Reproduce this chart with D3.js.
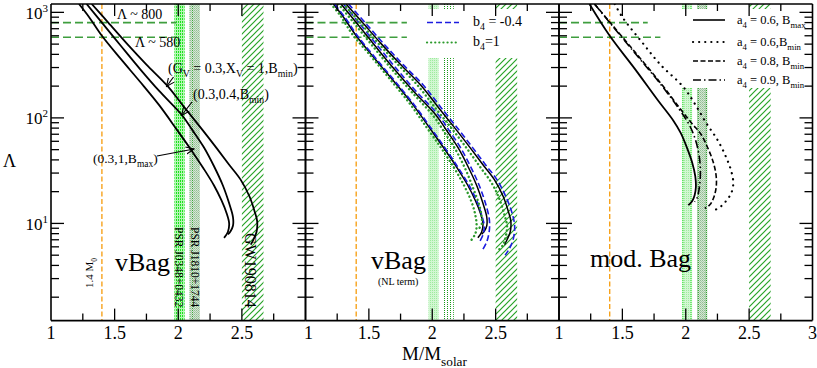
<!DOCTYPE html>
<html>
<head>
<meta charset="utf-8">
<script src="https://cdn.jsdelivr.net/npm/d3@7"></script>
<style>
body{margin:0;background:#fff}
svg text{font-family:'Liberation Serif','Tinos','Times New Roman','DejaVu Serif',serif;fill:#000}
</style>
</head>
<body>
<svg id="chart" width="817" height="368" font-family="Liberation Serif, DejaVu Serif, serif"></svg>
<script>
// axis ticks
var massMajor = [1, 1.5, 2, 2.5];
var massMinor = [1.25, 1.75, 2.25, 2.75];
var lambdaMajor = [10, 100, 1000];
var lambdaExp = ["1", "2", "3"];

// observational constraints
var canonicalMass = 1.4;
var lambdaRefs = [800, 580];
var bandNames = ["PSR J0348+0432", "PSR J1810+1744", "GW190814"];
var bandLo = [1.97, 2.09, 2.50];
var bandHi = [2.05, 2.17, 2.67];

// vBag curves (M, Lambda)
var vbagBmax = [[1.22,1200],[1.30,900],[1.40,600],[1.55,360],[1.70,220],[1.85,132],[1.99,77],[2.10,50],[2.20,33],[2.28,23],[2.34,16.5],[2.38,12.5],[2.40,10],[2.39,8.3],[2.36,7.3]];
var vbagX04 = [[1.28,1200],[1.40,800],[1.55,480],[1.70,290],[1.85,180],[2.03,106],[2.11,77],[2.20,53],[2.28,35],[2.35,23],[2.40,15.5],[2.43,11.5],[2.43,9.5],[2.41,8.4],[2.39,7.9]];
var vbagX1 = [[1.32,1200],[1.45,800],[1.60,500],[1.75,320],[1.91,204],[2.05,125],[2.19,77],[2.30,52],[2.40,36],[2.49,26],[2.56,18],[2.60,13],[2.62,10.5],[2.615,8.3],[2.59,7],[2.57,6.3]];

// vBag with NL term, b4 = -0.4
var nlBlueBmax = [[1.23,1200],[1.31,900],[1.41,600],[1.56,360],[1.71,220],[1.86,132],[2.00,77],[2.11,50],[2.21,33],[2.29,23],[2.35,16.5],[2.39,12],[2.41,9.5],[2.40,7.8],[2.37,6.6]];
var nlBlueX04 = [[1.30,1200],[1.42,800],[1.57,480],[1.72,290],[1.87,180],[2.05,106],[2.13,77],[2.22,53],[2.30,35],[2.37,23],[2.42,15.5],[2.45,11],[2.45,8.5],[2.43,6.7],[2.40,5.7]];
var nlBlueX1 = [[1.34,1200],[1.47,800],[1.62,500],[1.77,320],[1.93,204],[2.07,125],[2.21,77],[2.32,52],[2.42,36],[2.51,26],[2.58,18],[2.63,12.5],[2.65,9.5],[2.64,7.2],[2.61,5.8],[2.575,5.0]];
// b4 = 1
var nlGreenBmax = [[1.20,1200],[1.27,950],[1.37,620],[1.52,380],[1.67,230],[1.82,138],[1.96,80],[2.07,52],[2.17,34],[2.25,23],[2.31,16],[2.34,12],[2.35,9.5],[2.34,8],[2.31,7]];
var nlGreenX04 = [[1.26,1200],[1.38,800],[1.53,480],[1.68,290],[1.83,180],[2.01,104],[2.09,75],[2.18,51],[2.26,33],[2.32,22],[2.37,15],[2.39,11.5],[2.39,9.8],[2.37,9]];
var nlGreenX1 = [[1.30,1200],[1.43,800],[1.58,500],[1.73,320],[1.89,200],[2.03,122],[2.17,75],[2.28,50],[2.38,34],[2.47,24],[2.53,17],[2.57,12],[2.59,9.5],[2.58,7.5],[2.56,6.3],[2.53,5.7]];

// modified Bag
var modA06Bmax = [[1.24,1200],[1.40,600],[1.60,290],[1.78,147],[1.90,95],[1.96,72],[2.01,52],[2.05,38],[2.075,28],[2.08,22],[2.07,18.5],[2.05,16.2],[2.02,14.9]];
var modA06Bmin = [[1.44,1200],[1.50,900],[1.65,530],[1.80,320],[1.98,197],[2.07,137],[2.16,90],[2.25,62],[2.32,42],[2.36,31],[2.375,24],[2.36,19.5],[2.33,17],[2.28,14.6],[2.23,13.4]];
var modA08Bmin = [[1.28,1200],[1.40,810],[1.60,420],[1.80,215],[1.95,125],[2.05,88],[2.12,70],[2.18,50],[2.22,37],[2.24,28],[2.24,22],[2.22,17.5],[2.19,15],[2.15,13.9]];
var modA09Bmin = [[1.28,1200],[1.40,800],[1.60,410],[1.80,210],[1.95,120],[2.03,85],[2.08,60],[2.11,40],[2.115,28],[2.105,21],[2.09,17.5],[2.07,16]];

var svg = d3.select("#chart");
var plotTop = 4, plotBottom = 320.6;
var panelRange = [[51,305.5],[305.5,559],[559,812.5]];
var y = d3.scaleLog().domain([1.2,1200]).range([plotBottom, plotTop]);
var xs = panelRange.map(function(r){ return d3.scaleLinear().domain([1,3]).range(r); });

var defs = svg.append("defs");
// band fills
var p = defs.append("pattern").attr("id","bright").attr("width",2).attr("height",3).attr("patternUnits","userSpaceOnUse");
p.append("rect").attr("width",2).attr("height",3).attr("fill","#b4f7b4");
p.append("rect").attr("width",1).attr("height",2).attr("fill","#1fe01f");
p = defs.append("pattern").attr("id","light").attr("width",2).attr("height",2).attr("patternUnits","userSpaceOnUse");
p.append("rect").attr("width",2).attr("height",2).attr("fill","#d2f7d2");
p.append("rect").attr("width",1).attr("height",1).attr("fill","#9eeb9e");
p = defs.append("pattern").attr("id","grey").attr("width",2).attr("height",2).attr("patternUnits","userSpaceOnUse");
p.append("rect").attr("width",2).attr("height",2).attr("fill","#d3e6d3");
p.append("rect").attr("width",1).attr("height",1).attr("fill","#93bd93");
p.append("rect").attr("x",1).attr("y",1).attr("width",1).attr("height",1).attr("fill","#a9cba9");
p = defs.append("pattern").attr("id","darkdots").attr("width",3).attr("height",2).attr("patternUnits","userSpaceOnUse");
p.append("rect").attr("width",1).attr("height",1).attr("fill","#1a9a1a");
p = defs.append("pattern").attr("id","hatch").attr("width",6).attr("height",6).attr("patternUnits","userSpaceOnUse");
p.append("path").attr("d","M0,6L6,0M-1,1L1,-1M5,7L7,5").attr("stroke","#27a327").attr("stroke-width",1.2);

defs.append("marker").attr("id","arrow").attr("viewBox","0 0 10 10").attr("refX",9).attr("refY",5)
  .attr("markerWidth",9).attr("markerHeight",9).attr("markerUnits","userSpaceOnUse").attr("orient","auto")
  .append("path").attr("d","M0,1L9,5L0,9").attr("fill","none").attr("stroke","#000").attr("stroke-width",1.2);

panelRange.forEach(function(r,i){
  defs.append("clipPath").attr("id","clip"+i).append("rect")
    .attr("x",r[0]).attr("y",plotTop).attr("width",r[1]-r[0]).attr("height",plotBottom-plotTop);
});

// rich text: parts alternate normal / subscript
function rich(g, x, yy, parts, size){
  var t = g.append("text").attr("x",x).attr("y",yy).attr("font-size",size);
  var shift = 0;
  parts.forEach(function(s,k){
    var sub = k % 2 === 1;
    var want = sub ? size*0.32 : 0;
    t.append("tspan").text(s).attr("font-size", sub ? size*0.7 : size).attr("dy", want - shift);
    shift = want;
  });
  return t;
}

var bandStyles = [
  ["url(#bright)","url(#grey)","url(#hatch)"],
  ["url(#light)","url(#darkdots)","url(#hatch)"],
  ["url(#light)","url(#grey)","url(#hatch)"]
];
var refEnds = [[1.985,1.985],[1.80,1.80],[1.70,1.80]];

var panels = panelRange.map(function(r,i){
  var g = svg.append("g");
  var x = xs[i];
  var pg = g.append("g").attr("clip-path","url(#clip"+i+")");
  bandLo.forEach(function(lo,k){
    pg.append("rect").attr("x",x(lo)).attr("y",plotTop).attr("width",x(bandHi[k])-x(lo))
      .attr("height",plotBottom-plotTop).attr("fill",bandStyles[i][k]);
  });
  // dotted band edges
  if(i===0){
    pg.append("rect").attr("x",x(bandLo[1])).attr("y",plotTop).attr("width",3).attr("height",plotBottom-plotTop).attr("fill","url(#darkdots)");
  }
  if(i===2){
    [bandLo[0],bandHi[0],bandLo[1],bandHi[1]].forEach(function(v,k){
      pg.append("line").attr("x1",x(v)+(k%2?-1:1)).attr("x2",x(v)+(k%2?-1:1)).attr("y1",plotTop).attr("y2",plotBottom)
        .attr("stroke",k<2?"#33e033":"#1a9a1a").attr("stroke-width",1).attr("stroke-dasharray","1,1");
    });
  }
  pg.append("line").attr("x1",x(canonicalMass)).attr("x2",x(canonicalMass)).attr("y1",plotTop).attr("y2",plotBottom)
    .attr("stroke","#f7a21b").attr("stroke-width",1.4).attr("stroke-dasharray","5,2.5");
  lambdaRefs.forEach(function(L,k){
    pg.append("line").attr("x1",r[0]).attr("x2",x(refEnds[i][k])).attr("y1",y(L)).attr("y2",y(L))
      .attr("stroke","#3e9e3e").attr("stroke-width",1.6).attr("stroke-dasharray","8,4");
  });
  return {g:g, pg:pg, x:x, r:r};
});

// legend backgrounds
panels[1].pg.append("rect").attr("x",420).attr("y",9).attr("width",108).attr("height",49).attr("fill","#fff");
panels[2].pg.append("rect").attr("x",680).attr("y",9).attr("width",134).attr("height",79).attr("fill","#fff");

function curve(panel, data, color, width, dash){
  var line = d3.line().x(function(d){return panel.x(d[0]);}).y(function(d){return y(d[1]);})
    .curve(d3.curveCatmullRom.alpha(0.5));
  var path = panel.pg.append("path").datum(data).attr("d",line).attr("fill","none")
    .attr("stroke",color).attr("stroke-width",width).attr("stroke-linecap", dash==="dot" ? "round" : "butt");
  if(dash==="dot") path.attr("stroke-dasharray","0.1,4");
  else if(dash) path.attr("stroke-dasharray",dash);
  return path;
}

// panel 1
[vbagBmax, vbagX04, vbagX1].forEach(function(d){ curve(panels[0], d, "#000", 1.8); });
// panel 2
[vbagBmax, vbagX04, vbagX1].forEach(function(d){ curve(panels[1], d, "#000", 1.5); });
[nlBlueBmax, nlBlueX04, nlBlueX1].forEach(function(d){ curve(panels[1], d, "#1c1ce0", 1.6, "6,3"); });
[nlGreenBmax, nlGreenX04, nlGreenX1].forEach(function(d){ curve(panels[1], d, "#2c9a2c", 2.4, "dot"); });
// panel 3
curve(panels[2], modA06Bmax, "#000", 1.8);
curve(panels[2], modA06Bmin, "#000", 2.2, "0.1,6").attr("stroke-linecap","round");
curve(panels[2], modA08Bmin, "#000", 1.6, "5,2.5");
curve(panels[2], modA09Bmin, "#000", 1.6, "8,3,1.5,3");

// frames and ticks
var yMinor = [];
[1,10,100].forEach(function(dec){ for(var m=2;m<=9;m++){ var v=m*dec; if(v>=1.2 && v<=1200) yMinor.push(v);} });
panels.forEach(function(P,i){
  var g = P.g, x = P.x, r = P.r;
  function seg(x1,y1,x2,y2,w){ g.append("line").attr("x1",x1).attr("y1",y1).attr("x2",x2).attr("y2",y2).attr("stroke","#000").attr("stroke-width",w||1.3); }
  seg(r[0],plotTop,r[1],plotTop,1.6); seg(r[0],plotBottom,r[1],plotBottom,1.6);
  seg(r[0],plotTop,r[0],plotBottom,1.6); seg(r[1],plotTop,r[1],plotBottom,1.6);
  massMajor.slice(1).forEach(function(v){ seg(x(v),plotBottom,x(v),plotBottom-12); seg(x(v),plotTop,x(v),plotTop+12); });
  massMinor.forEach(function(v){ seg(x(v),plotBottom,x(v),plotBottom-7); seg(x(v),plotTop,x(v),plotTop+7); });
  lambdaMajor.forEach(function(v){ seg(r[0],y(v),r[0]+13,y(v)); seg(r[1],y(v),r[1]-13,y(v)); });
  yMinor.forEach(function(v){ seg(r[0],y(v),r[0]+8,y(v)); seg(r[1],y(v),r[1]-8,y(v)); });
  var labels = i===2 ? massMajor.concat([3]) : massMajor;
  labels.forEach(function(v){
    svg.append("text").attr("x",x(v)+(i===1&&v===1?3:0)).attr("y",339).attr("text-anchor","middle").attr("font-size",18).text(v);
  });
});

// y axis labels
lambdaMajor.forEach(function(v,k){
  var t = svg.append("text").attr("x",48).attr("y",y(v)+6.5).attr("text-anchor","end").attr("font-size",17);
  t.append("tspan").text("10");
  t.append("tspan").text(lambdaExp[k]).attr("font-size",11).attr("dy",-7);
});
svg.append("text").attr("x",3).attr("y",167).attr("font-size",18).text("\u039b");
rich(svg, 402, 360, ["M/M","solar"], 19);

// panel 1 annotations
var g0 = panels[0].g;
g0.append("text").attr("x",117).attr("y",19).attr("font-size",14).text("\u039b ~ 800");
g0.append("text").attr("x",135).attr("y",47).attr("font-size",14).text("\u039b ~ 580");
rich(g0, 168, 73, ["(G","V"," = 0.3,X","V"," = 1,B","min",")"], 14);
rich(g0, 193, 99, ["(0.3,0.4,B","min",")"], 14);
rich(g0, 93, 163, ["(0.3,1,B","max",")"], 13.5);
[[173.5,77,166.5,86.5],[192,102,181.5,115.5],[157,156,194,149]].forEach(function(a){
  g0.append("line").attr("x1",a[0]).attr("y1",a[1]).attr("x2",a[2]).attr("y2",a[3])
    .attr("stroke","#000").attr("stroke-width",1.2).attr("marker-end","url(#arrow)");
});
g0.append("text").attr("x",115).attr("y",271).attr("font-size",26).text("vBag");
rich(g0.append("g").attr("transform","translate(93,288) rotate(-90)"), 0, 0, ["1.4 M","0"], 11);
g0.append("g").attr("transform","translate(174.5,227) rotate(90)").append("text").attr("font-size",11.5).text(bandNames[0]);
g0.append("g").attr("transform","translate(190.5,227) rotate(90)").append("text").attr("font-size",11.5).text(bandNames[1]);
g0.append("g").attr("transform","translate(245,233) rotate(90)").append("text").attr("font-size",16).text(bandNames[2]);

// panel 2
var g1 = panels[1].g;
g1.append("text").attr("x",371).attr("y",269).attr("font-size",26).text("vBag");
g1.append("text").attr("x",378).attr("y",285).attr("font-size",10).text("(NL term)");
g1.append("line").attr("x1",427).attr("x2",459).attr("y1",22.5).attr("y2",22.5).attr("stroke","#1c1ce0").attr("stroke-width",1.6).attr("stroke-dasharray","6,3");
g1.append("line").attr("x1",427).attr("x2",459).attr("y1",42.5).attr("y2",42.5).attr("stroke","#2c9a2c").attr("stroke-width",2.2).attr("stroke-dasharray","0.1,4").attr("stroke-linecap","round");
rich(g1, 473, 26, ["b","4"," = -0.4"], 14);
rich(g1, 473, 46, ["b","4","=1"], 14);

// panel 3
var g2 = panels[2].g;
g2.append("text").attr("x",590).attr("y",267).attr("font-size",26).text("mod. Bag");
var legY = [20, 42, 61, 80];
var legDash = [null, "0.1,6", "5,2.5", "8,3,1.5,3"];
var legText = [["a","4"," = 0.6, B","max"],["a","4"," = 0.6,B","min"],["a","4"," = 0.8, B","min"],["a","4"," = 0.9, B","min"]];
legY.forEach(function(ly,k){
  var l = g2.append("line").attr("x1",693).attr("x2",725).attr("y1",ly).attr("y2",ly).attr("stroke","#000")
    .attr("stroke-width",k===1?2.2:1.6);
  if(legDash[k]) l.attr("stroke-dasharray",legDash[k]);
  if(k===1) l.attr("stroke-linecap","round");
  rich(g2, 737, ly+4, legText[k], 12.5);
});
</script>
</body>
</html>
